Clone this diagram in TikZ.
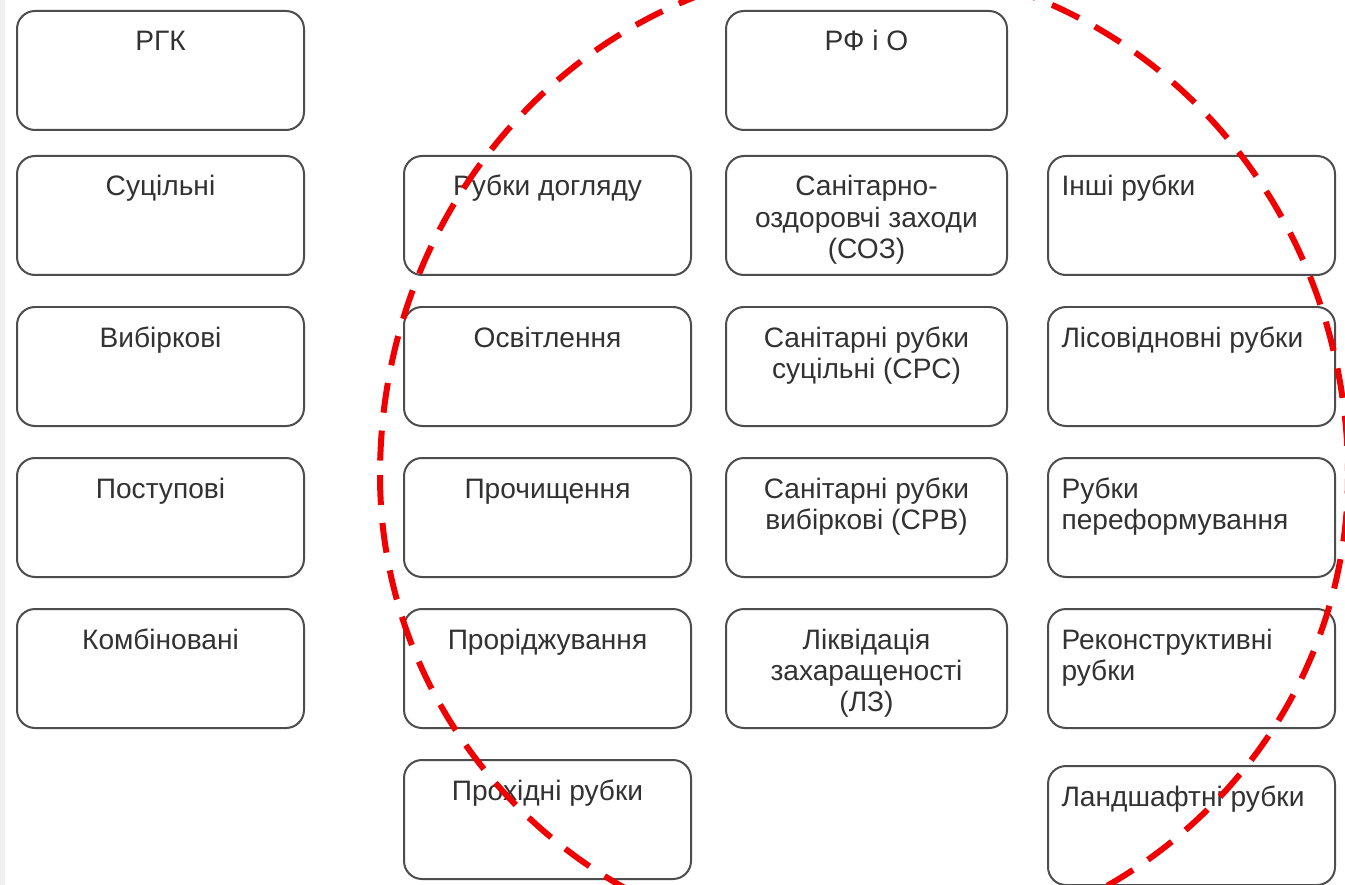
\documentclass[tikz,border=0pt]{standalone}
\usepackage{fontspec}
\setmainfont{Liberation Sans}
\usetikzlibrary{positioning}
\definecolor{boxgray}{RGB}{77,77,77}
\definecolor{txtgray}{RGB}{50,50,50}
\definecolor{ovalred}{RGB}{240,0,0}
\newcommand{\ctext}[1]{\parbox[c][2.38cm][t]{5.3cm}{\centering\rule{0pt}{0.8cm}#1}}
\newcommand{\ltext}[1]{\parbox[c][2.38cm][t]{5.2cm}{\raggedright\rule{0pt}{0.8cm}#1}}

\begin{document}
\begin{tikzpicture}[
    node distance=0.6cm and 1.96cm,
    box/.style={draw=boxgray, line width=0.04cm, rounded corners=0.36cm, fill=white, text=txtgray, inner sep=0pt, minimum width=5.74cm, minimum height=2.38cm, font=\fontsize{16}{17.8}\selectfont},
    oval/.style={ovalred, line width=0.12cm, dash pattern=on 0.6cm off 0.36cm}
  ]
    \useasboundingbox (0,0) rectangle (26.9,-17.7);
    \fill[white] (0,0) rectangle (26.9,-17.7);
    \fill[gray!12] (0,0) rectangle (0.1,-17.7);
    % column 1
    \node[box] (rgk) at (3.21,-1.41) {\ctext{РГК}};
    \node[box, below=0.48cm of rgk] (sucil) {\ctext{Суцільні}};
    \node[box, below=of sucil] (vybirk) {\ctext{Вибіркові}};
    \node[box, below=of vybirk] (postup) {\ctext{Поступові}};
    \node[box, below=of postup] (kombin) {\ctext{Комбіновані}};
    % column 2
    \node[box, right=of sucil] (dohl) {\ctext{Рубки догляду}};
    \node[box, below=of dohl] (osvit) {\ctext{Освітлення}};
    \node[box, below=of osvit] (proch) {\ctext{Прочищення}};
    \node[box, below=of proch] (prorid) {\ctext{Проріджування}};
    \node[box, below=of prorid] (prohid) {\ctext{Прохідні рубки}};
    % column 3
    \node[box, minimum width=5.62cm, right=0.66cm of dohl] (soz) {\ctext{Санітарно-\\оздоровчі заходи\\(СОЗ)}};
    \node[box, minimum width=5.62cm, above=0.48cm of soz] (rfio) {\ctext{РФ і О}};
    \node[box, minimum width=5.62cm, below=of soz] (srs) {\ctext{Санітарні рубки\\суцільні (СРС)}};
    \node[box, minimum width=5.62cm, below=of srs] (srv) {\ctext{Санітарні рубки\\вибіркові (СРВ)}};
    \node[box, minimum width=5.62cm, below=of srv] (lz) {\ctext{Ліквідація\\захаращеності\\(ЛЗ)}};
    % column 4
    \node[box, right=0.78cm of soz] (inshi) {\ltext{Інші рубки}};
    \node[box, below=of inshi] (lisovid) {\ltext{Лісовідновні рубки}};
    \node[box, below=of lisovid] (pereform) {\ltext{Рубки\\переформування}};
    \node[box, below=of pereform] (rekon) {\ltext{Реконструктивні\\рубки}};
    \node[box, below=0.72cm of rekon] (landsh) {\ltext{Ландшафтні рубки}};
    % red dashed oval
    \begin{scope}
      \clip (0,0) rectangle (26.9,-17.7);
      \draw[oval] (7.6,-9.5) arc[start angle=180, end angle=360, x radius=9.68cm, y radius=9.5cm]
        arc[start angle=0, end angle=180, x radius=9.68cm, y radius=10.2cm];
    \end{scope}
\end{tikzpicture}
\end{document}
